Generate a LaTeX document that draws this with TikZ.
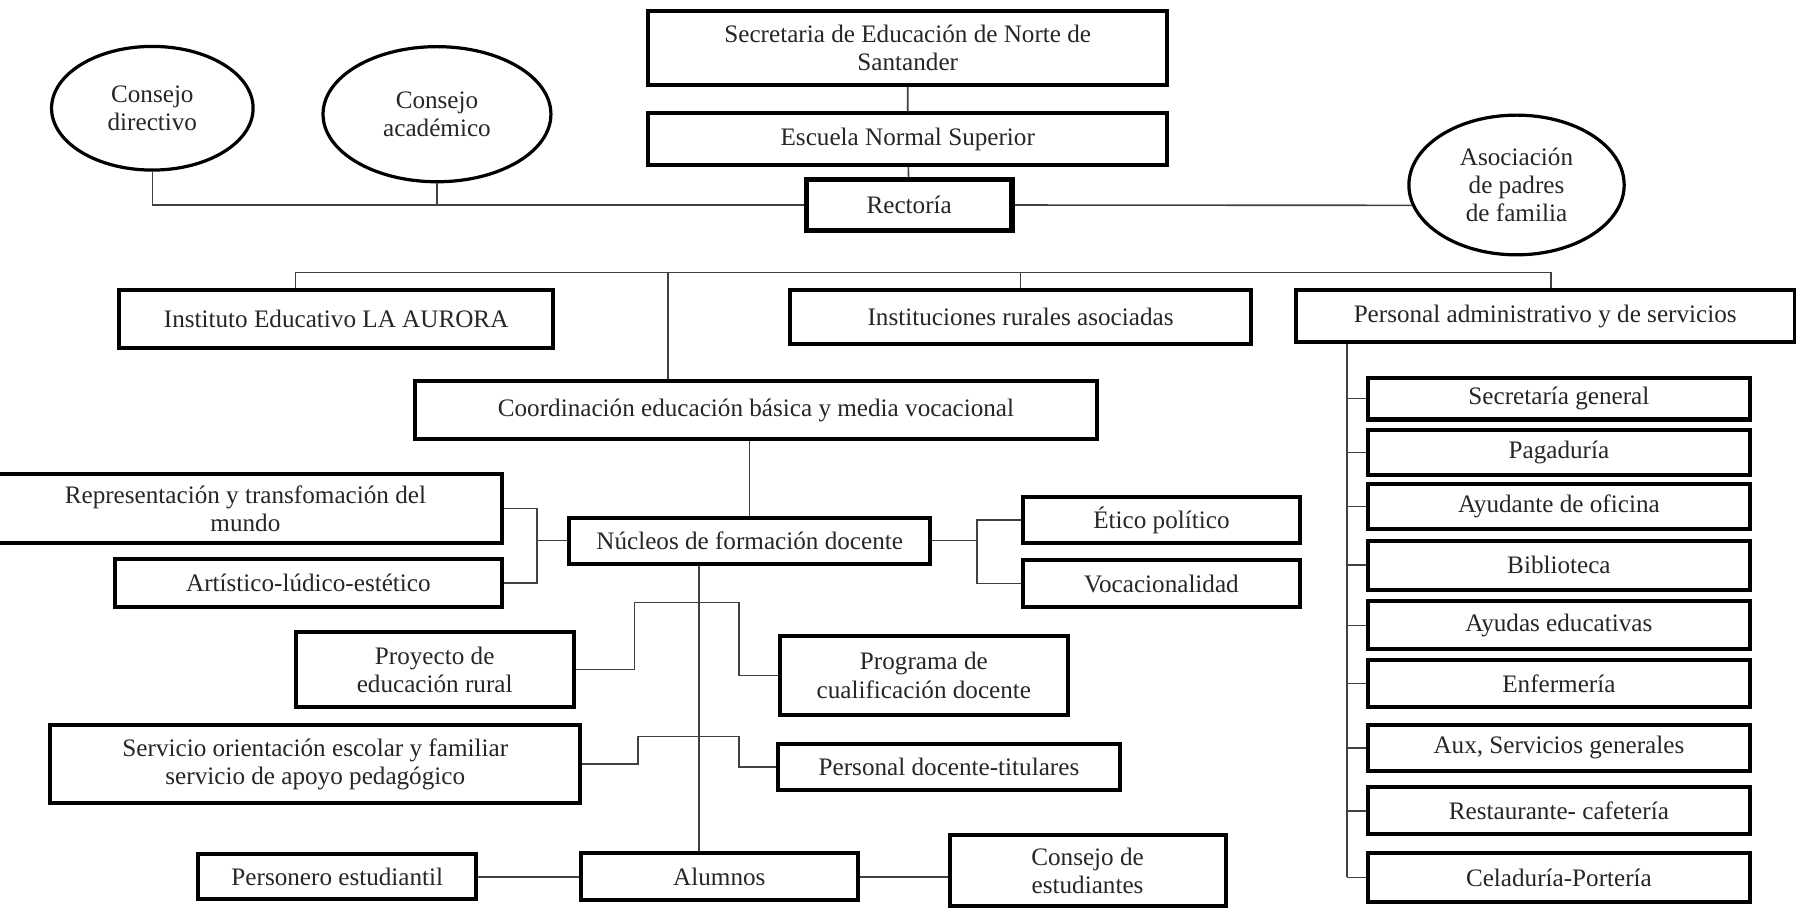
\documentclass[tikz,border=0pt]{standalone}
\usepackage{fontspec}
\setmainfont{Liberation Serif}
\usetikzlibrary{shapes.geometric}

\begin{document}
\begin{tikzpicture}[x=0.02cm, y=-0.02cm,
        caja/.style={draw=black, line width=2pt, fill=white, inner sep=0pt, align=center, text=black!85, font=\fontsize{12.5}{14}\selectfont},
        elipse/.style={ellipse, draw=black, line width=1.6pt, fill=white, inner sep=0pt, align=center, text=black!85, font=\fontsize{12.5}{14}\selectfont},
        linea/.style={black!75, line width=0.8pt}]
        \useasboundingbox (0, 0) rectangle (1568, 794);

        \node (0) at (792.5, 42)[caja, minimum width=9.06cm, minimum height=1.28cm] {Secretaria de Educación de Norte de\\Santander};
        \node (1) at (792.5, 121.5)[caja, minimum width=9.06cm, minimum height=0.9cm] {Escuela Normal Superior};
        \node (2) at (793.75, 179)[caja, line width=2.6pt, minimum width=3.59cm, minimum height=0.88cm] {Rectoría};

        \node (3) at (133, 94.5)[elipse, minimum width=3.52cm, minimum height=2.16cm] {Consejo\\directivo};
        \node (4) at (381.5, 99.7)[elipse, minimum width=3.98cm, minimum height=2.36cm] {Consejo\\académico};
        \node (5) at (1324, 161.5)[elipse, minimum width=3.76cm, minimum height=2.44cm] {Asociación\\de padres\\de familia};

        \node (6) at (293.5, 278.5)[caja, minimum width=7.58cm, minimum height=1.02cm] {Instituto Educativo LA AURORA};
        \node (7) at (891, 276.5)[caja, minimum width=8.04cm, minimum height=0.94cm] {Instituciones rurales asociadas};
        \node (8) at (1349, 276)[caja, minimum width=8.72cm, minimum height=0.92cm] {Personal administrativo y de servicios};

        \node (9) at (660, 358)[caja, minimum width=11.92cm, minimum height=1cm] {Coordinación educación básica y media vocacional};
        \node (10) at (654.5, 472)[caja, minimum width=6.3cm, minimum height=0.8cm] {Núcleos de formación docente};

        \node (11) at (214.25, 444)[caja, minimum width=8.97cm, minimum height=1.2cm] {Representación y transfomación del\\mundo};
        \node (12) at (269.25, 509)[caja, minimum width=6.77cm, minimum height=0.84cm] {Artístico-lúdico-estético};
        \node (13) at (1014, 454)[caja, minimum width=4.84cm, minimum height=0.8cm] {Ético político};
        \node (14) at (1014, 509.5)[caja, minimum width=4.84cm, minimum height=0.82cm] {Vocacionalidad};

        \node (15) at (379.5, 584.5)[caja, minimum width=4.86cm, minimum height=1.32cm] {Proyecto de\\educación rural};
        \node (16) at (806.6, 589.6)[caja, minimum width=5.04cm, minimum height=1.38cm] {Programa de\\cualificación docente};
        \node (17) at (275.25, 667)[caja, minimum width=9.25cm, minimum height=1.36cm] {Servicio orientación escolar y familiar\\servicio de apoyo pedagógico};
        \node (18) at (828.5, 669.7)[caja, minimum width=5.98cm, minimum height=0.79cm] {Personal docente-titulares};

        \node (19) at (628, 765.5)[caja, minimum width=4.84cm, minimum height=0.82cm] {Alumnos};
        \node (20) at (294.5, 765.5)[caja, minimum width=4.86cm, minimum height=0.79cm] {Personero estudiantil};
        \node (21) at (949.5, 760)[caja, minimum width=4.82cm, minimum height=1.24cm] {Consejo de\\estudiantes};

        \node (22) at (1361, 348)[caja, minimum width=6.68cm, minimum height=0.73cm] {Secretaría general};
        \node (23) at (1361, 395.2)[caja, minimum width=6.68cm, minimum height=0.78cm] {Pagaduría};
        \node (24) at (1361, 442.2)[caja, minimum width=6.68cm, minimum height=0.77cm] {Ayudante de oficina};
        \node (25) at (1361, 493.4)[caja, minimum width=6.68cm, minimum height=0.86cm] {Biblioteca};
        \node (26) at (1361, 546)[caja, minimum width=6.68cm, minimum height=0.84cm] {Ayudas educativas};
        \node (27) at (1361, 596.7)[caja, minimum width=6.68cm, minimum height=0.83cm] {Enfermería};
        \node (28) at (1361, 653)[caja, minimum width=6.68cm, minimum height=0.81cm] {Aux, Servicios generales};
        \node (29) at (1361, 707.8)[caja, minimum width=6.68cm, minimum height=0.82cm] {Restaurante- cafetería};
        \node (30) at (1361, 766)[caja, minimum width=6.68cm, minimum height=0.86cm] {Celaduría-Portería};

        \coordinate (a) at (258, 238);
        \coordinate (b) at (1354, 238);
        \coordinate (c) at (469, 472);
        \coordinate (d) at (853, 472);
        \coordinate (e) at (610.5, 238);
        \coordinate (f) at (554, 526);
        \coordinate (g) at (645, 526);
        \coordinate (h) at (557, 643);
        \coordinate (i) at (645, 643);
        \coordinate (j) at (1176, 300);
        \coordinate (k) at (583, 238);

        \draw[linea] (0) -- (1) -- (2);
        \draw[linea] (3.south) |- (2.west);
        \draw[linea] (4.south) -- (4.south |- 2.west);
        \draw[linea] (2.east) -- (5.191);

        \draw[linea] (6.north -| a) -- (a) -- (b) -- (8.north -| b);
        \draw[linea] (k) -- (9.north -| k);
        \draw[linea] (7.north |- a) -- (7.north);
        \draw[linea] (10.north |- 9.south) -- (10.north);

        \draw[linea] (11.east) -| (c) |- (12.east);
        \draw[linea] (c) -- (10.west);
        \draw[linea] (10.east) -- (d);
        \draw[linea] (13.west) -| (d) |- (14.west);

        \draw[linea] (10.south -| e) -- (19.north -| e);
        \draw[linea] (15.east) -| (f) -- (g) |- (16.west);
        \draw[linea] (17.east) -| (h) -- (i) |- (18.west);

        \draw[linea] (20.east) -- (19.west);
        \draw[linea] (19.east) -- (21.west |- 19.east);

        \draw[linea] (8.south -| j) -- (j |- 30.west);
        \foreach \n in {22,...,30}
            \draw[linea] (j |- \n.west) -- (\n.west);
    \end{tikzpicture}
\end{document}
